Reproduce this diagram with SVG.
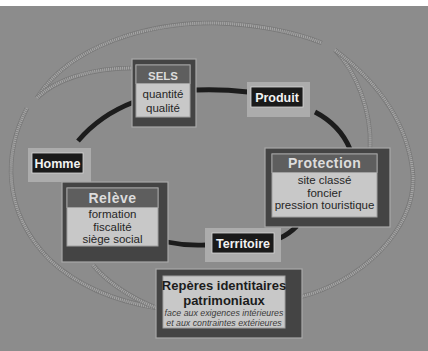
<svg xmlns="http://www.w3.org/2000/svg" width="428" height="351" viewBox="0 0 428 351">
<style>
.rope{fill:none;stroke:#787878;stroke-width:4.5;stroke-linecap:butt}
.ropeHi{fill:none;stroke:#a6a6a6;stroke-width:3;stroke-dasharray:1.2 0.8}
.ring{fill:none;stroke:#1c1c1c;stroke-width:4.8;stroke-linecap:butt}
.shell{fill:#444;stroke:#a8a8a8;stroke-width:1.2}
.head{fill:#5e5e5e;stroke:#a0a0a0;stroke-width:1}
.body{fill:#c8c8c8;stroke:#a0a0a0;stroke-width:1}
.frame{fill:#acacac}
.tag{fill:#1a1a1a;stroke:#d8d8d8;stroke-width:0.8}
.ht{font-family:"Liberation Sans",Arial,sans-serif;font-weight:bold;fill:#dcdcdc;text-anchor:middle}
.bt{font-family:"Liberation Sans",Arial,sans-serif;fill:#262626;text-anchor:middle;font-size:11.5px}
.lt{font-family:"Liberation Sans",Arial,sans-serif;font-weight:bold;fill:#f2f2f2;text-anchor:middle;font-size:12.5px}
</style>
<rect x="0" y="0" width="428" height="351" fill="#8c8c8c"/>
<rect x="0" y="0" width="428" height="6" fill="#ffffff"/>
<g id="connectors">
  <path class="rope" d="M37,98 C70,45 150,22 215,23 C255,24 295,32 322,43"/>
  <path class="ropeHi" d="M37,98 C70,45 150,22 215,23 C255,24 295,32 322,43"/>
  <path class="rope" d="M37,98 C55,80 90,68 134,68"/>
  <path class="ropeHi" d="M37,98 C55,80 90,68 134,68"/>
  <path class="rope" d="M27,108 C5,150 0,210 50,260 C80,288 120,302 157,308"/>
  <path class="ropeHi" d="M27,108 C5,150 0,210 50,260 C80,288 120,302 157,308"/>
  <path class="rope" d="M93,265 C105,280 130,298 157,308"/>
  <path class="ropeHi" d="M93,265 C105,280 130,298 157,308"/>
  <path class="rope" d="M335,50 C355,70 372,110 370,148"/>
  <path class="ropeHi" d="M335,50 C355,70 372,110 370,148"/>
  <path class="rope" d="M335,50 C375,80 408,120 413,175 C416,230 360,282 300,297"/>
  <path class="ropeHi" d="M335,50 C375,80 408,120 413,175 C416,230 360,282 300,297"/>
  <path class="ring" d="M78,141 Q100,115 134,102"/>
  <path class="ring" d="M196,90 Q222,89 248,92"/>
  <path class="ring" d="M315,112 Q340,125 350,149"/>
  <path class="ring" d="M280,238 Q289,234 297,226"/>
  <path class="ring" d="M167,242 Q186,246 206,245"/>
</g>
<g id="sels">
  <rect class="shell" x="132" y="59" width="64" height="68"/>
  <rect class="body" x="136" y="65" width="54" height="52"/>
  <rect class="head" x="136" y="65" width="54" height="18.5"/>
  <text class="ht" x="163" y="80" font-size="11.5">SELS</text>
  <text class="bt" x="163" y="98">quantité</text>
  <text class="bt" x="163" y="111.5">qualité</text>
</g>
<g id="produit">
  <rect class="frame" x="247" y="82" width="63" height="35"/>
  <rect class="tag" x="251" y="87" width="52" height="20"/>
  <text class="lt" x="277" y="101.5">Produit</text>
</g>
<g id="homme">
  <rect class="frame" x="28" y="148" width="63" height="34"/>
  <rect class="tag" x="32" y="153" width="51" height="20"/>
  <text class="lt" x="57.5" y="167.5">Homme</text>
</g>
<g id="protection">
  <rect class="shell" x="265" y="148" width="125" height="79"/>
  <rect class="body" x="272" y="154" width="105" height="63"/>
  <rect class="head" x="272" y="154" width="105" height="18.5"/>
  <text class="ht" x="324.5" y="168" font-size="14" letter-spacing="0.4">Protection</text>
  <text class="bt" x="324.5" y="184">site classé</text>
  <text class="bt" x="324.5" y="196.5">foncier</text>
  <text class="bt" x="324.5" y="209">pression touristique</text>
</g>
<g id="releve">
  <rect class="shell" x="62" y="182" width="106" height="80"/>
  <rect class="body" x="67" y="188" width="91" height="58"/>
  <rect class="head" x="67" y="188" width="91" height="19.5"/>
  <text class="ht" x="112.5" y="203" font-size="14" letter-spacing="0.5">Relève</text>
  <text class="bt" x="112.5" y="218">formation</text>
  <text class="bt" x="112.5" y="230.5">fiscalité</text>
  <text class="bt" x="112.5" y="243">siège social</text>
</g>
<g id="territoire">
  <rect class="frame" x="205" y="228" width="76" height="34"/>
  <rect class="tag" x="212" y="233" width="62" height="20"/>
  <text class="lt" x="243" y="247.5">Territoire</text>
</g>
<g id="reperes">
  <rect class="shell" x="156" y="269" width="146" height="69"/>
  <rect class="body" x="163" y="276" width="122" height="52"/>
  <text x="224" y="290" font-family="Liberation Sans, Arial, sans-serif" font-weight="bold" font-size="13" fill="#1c1c1c" text-anchor="middle">Repères identitaires</text>
  <text x="224" y="305" font-family="Liberation Sans, Arial, sans-serif" font-weight="bold" font-size="13" fill="#1c1c1c" text-anchor="middle">patrimoniaux</text>
  <text x="224" y="316" font-family="Liberation Sans, Arial, sans-serif" font-style="italic" font-size="8.8" fill="#3a3a3a" text-anchor="middle">face aux exigences intérieures</text>
  <text x="224" y="326" font-family="Liberation Sans, Arial, sans-serif" font-style="italic" font-size="8.8" fill="#3a3a3a" text-anchor="middle">et aux contraintes extérieures</text>
</g>
</svg>
